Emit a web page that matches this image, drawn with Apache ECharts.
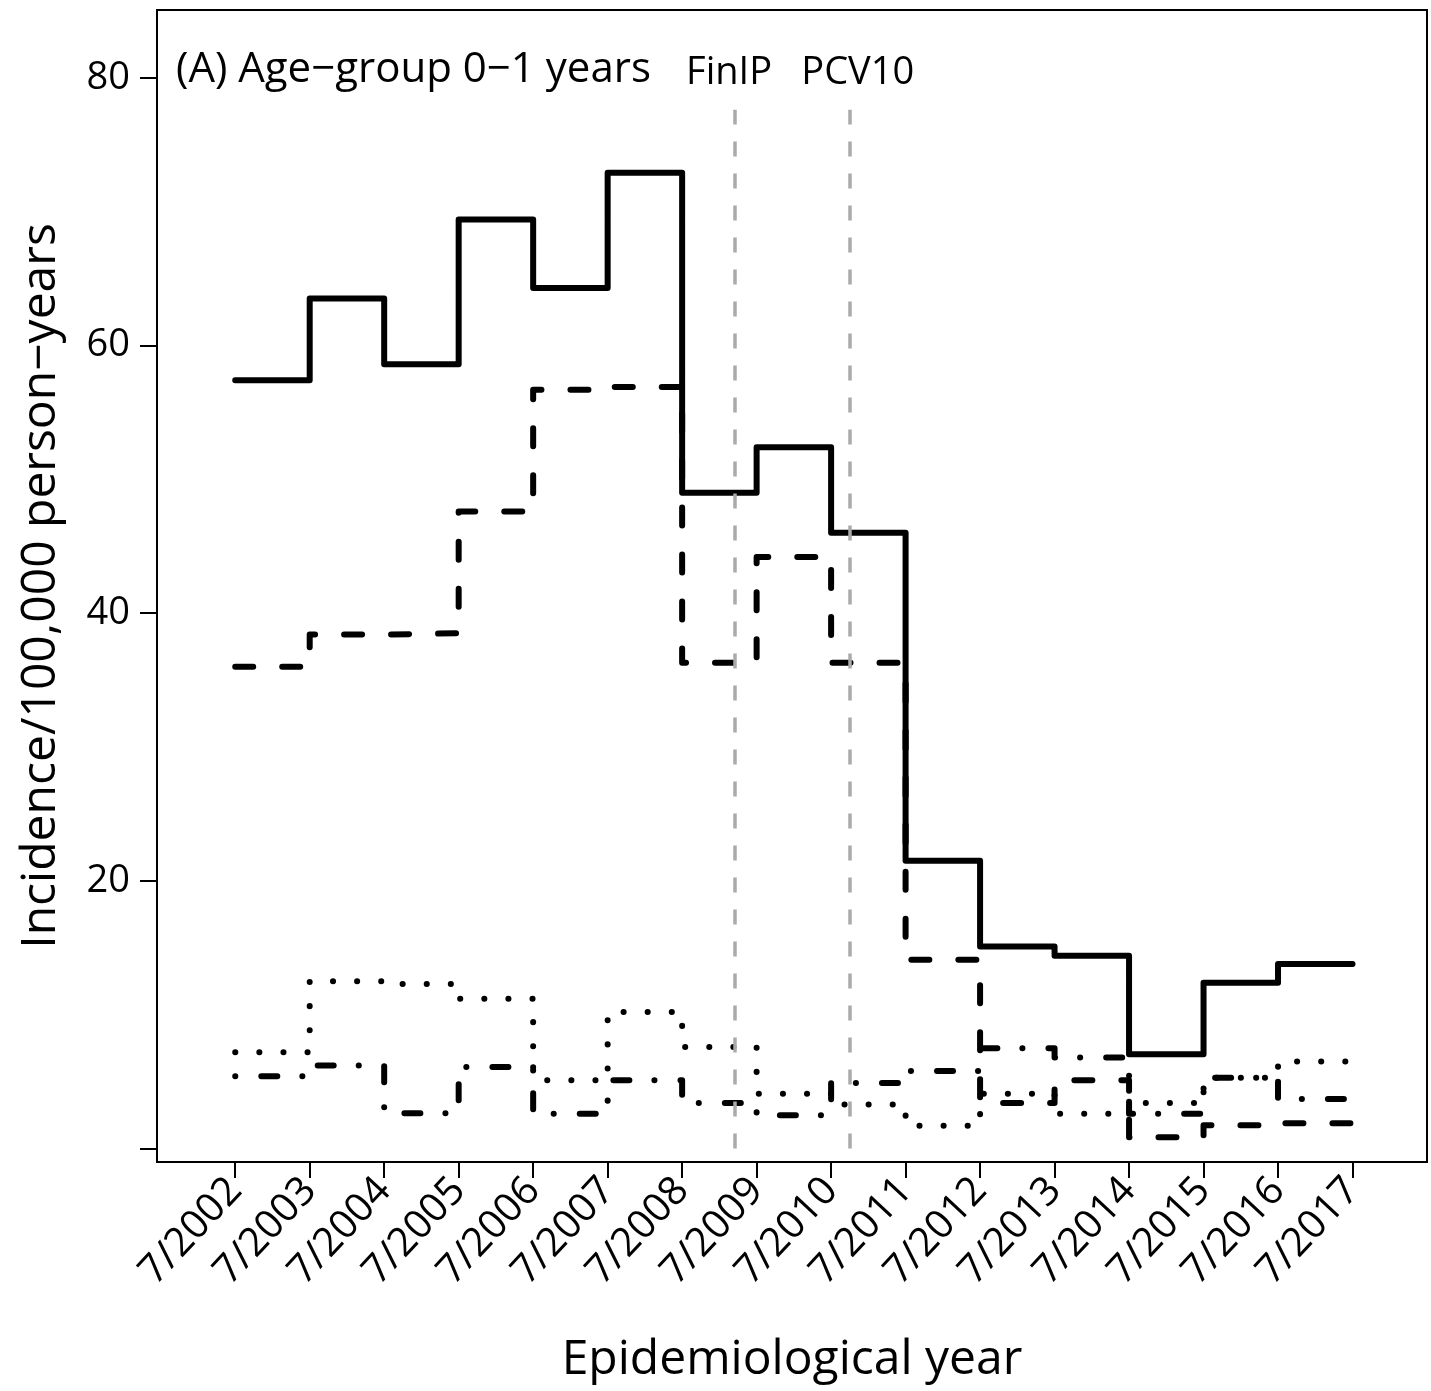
<!DOCTYPE html>
<html>
<head>
<meta charset="utf-8">
<title>Incidence, age-group 0-1 years</title>
<script src="https://cdn.jsdelivr.net/npm/echarts@6/dist/echarts.min.js"></script>
<style>
  html, body { margin: 0; padding: 0; background: #fff; }
  #main { width: 1431px; height: 1391px; }
</style>
</head>
<body>
<div id="main"></div>
<script>
// epidemiological years, value i covers 7/(2002+i) .. 7/(2003+i)
var yearLabels = ['7/2002', '7/2003', '7/2004', '7/2005', '7/2006', '7/2007', '7/2008', '7/2009',
	'7/2010', '7/2011', '7/2012', '7/2013', '7/2014', '7/2015', '7/2016', '7/2017'];

// solid line
var totalValues = [57.4, 63.5, 58.6, 69.4, 64.3, 72.9, 49.0, 52.4, 46.0, 21.5, 15.1, 14.4, 7.05, 12.4, 13.8];
// dashed line
var dashedValues = [36.0, 38.4, 38.5, 47.6, 56.7, 56.9, 36.3, 44.2, 36.3, 14.1, 3.4, 5.1, 0.85, 1.75, 1.9];
// dotted line
var dottedValues = [7.2, 12.5, 12.3, 11.2, 5.1, 10.2, 7.6, 4.1, 3.3, 1.7, 4.1, 2.6, 3.4, 5.3, 6.5];
// dot-dash line
var dotDashValues = [5.4, 6.2, 2.65, 6.1, 2.6, 5.1, 3.4, 2.5, 4.9, 5.8, 7.5, 6.8, 2.6, 5.3, 3.7];

// vaccine introductions (in years after 7/2002)
var introAt = [6.71, 8.25];
var introNames = ['FinIP', 'PCV10'];
var introTop = 77.6;

var yTicks = [0, 20, 40, 60, 80];
var yLabels = [20, 40, 60, 80];

var fontName = 'Open Sans';

function stepData(values) {
	var arr = [];
	for (var i = 0; i < values.length; i++) {
		arr.push([i, values[i]]);
	}
	arr.push([values.length, values[values.length - 1]]);
	return arr;
}

function lineSerie(name, values, dash) {
	return {
		name: name,
		type: 'line',
		step: 'end',
		symbol: 'none',
		silent: true,
		data: stepData(values),
		lineStyle: {color: '#000', width: 6, type: dash, cap: 'round', join: 'round'}
	};
}

function introLines() {
	var data = [];
	var shift = [-6, 8];
	for (var i = 0; i < introAt.length; i++) {
		data.push([
			{coord: [introAt[i], 0]},
			{coord: [introAt[i], introTop], label: {formatter: introNames[i], offset: [shift[i], 0]}}
		]);
	}
	return data;
}

var xTickValues = [];
for (var k = 0; k < yearLabels.length; k++) xTickValues.push(k);

var dottedSerie = lineSerie('dotted', dottedValues, [0.1, 24]);
dottedSerie.markLine = {
	silent: true,
	symbol: 'none',
	lineStyle: {color: '#aaaaaa', width: 3.5, type: [15, 17], cap: 'butt'},
	label: {show: true, position: 'end', distance: 18, color: '#000', fontFamily: fontName, fontSize: 38},
	data: introLines()
};

var option = {
	animation: false,
	backgroundColor: '#fff',
	title: {
		text: '(A) Age\u2212group 0\u22121 years',
		left: 171,
		top: 44,
		textStyle: {fontFamily: fontName, fontSize: 42, fontWeight: 'normal', color: '#000'}
	},
	grid: {
		left: 157, right: 4, top: 10, bottom: 229,
		show: true, borderColor: '#000', borderWidth: 2, backgroundColor: 'transparent'
	},
	xAxis: {
		type: 'value',
		min: -1.05,
		max: 16.0,
		name: 'Epidemiological year',
		nameLocation: 'middle',
		nameGap: 174,
		nameTextStyle: {fontFamily: fontName, fontSize: 48, color: '#000'},
		axisLine: {show: false, onZero: false},
		splitLine: {show: false},
		axisTick: {show: true, length: 16, lineStyle: {color: '#000', width: 2}, customValues: xTickValues},
		axisLabel: {
			rotate: 47,
			margin: 22,
			fontFamily: fontName,
			fontSize: 40,
			color: '#000',
			customValues: xTickValues,
			formatter: function(v) { return yearLabels[Math.round(v)]; }
		}
	},
	yAxis: {
		type: 'value',
		min: -1.0,
		max: 85.06,
		name: 'Incidence/100,000 person\u2212years',
		nameLocation: 'middle',
		nameGap: 92,
		nameTextStyle: {fontFamily: fontName, fontSize: 48, color: '#000'},
		axisLine: {show: false, onZero: false},
		splitLine: {show: false},
		axisTick: {show: true, length: 17, lineStyle: {color: '#000', width: 2}, customValues: yTicks},
		axisLabel: {
			margin: 27,
			fontFamily: fontName,
			fontSize: 38,
			color: '#000',
			customValues: yLabels
		}
	},
	series: [
		lineSerie('total', totalValues, 'solid'),
		lineSerie('dashed', dashedValues, [18, 29]),
		dottedSerie,
		lineSerie('dotdash', dotDashValues, [0.1, 26, 16, 25])
	]
};

var myChart = echarts.init(document.getElementById('main'));
myChart.setOption(option);
</script>
</body>
</html>
